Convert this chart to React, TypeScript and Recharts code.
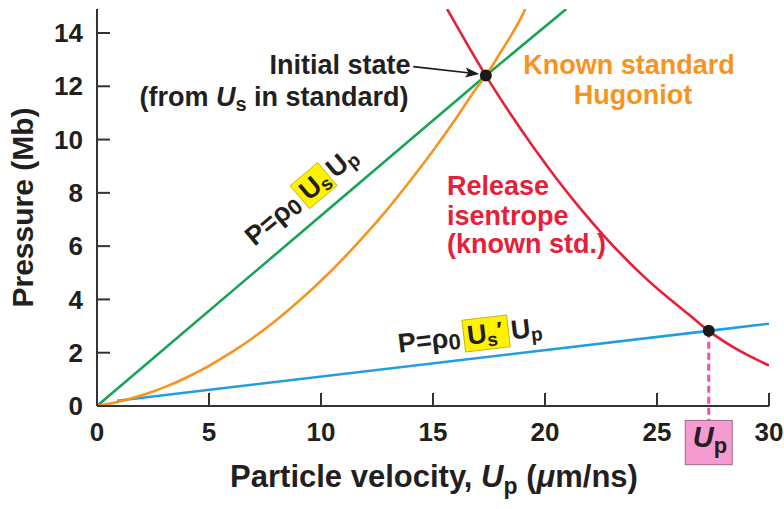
import React from 'react';
import { LineChart, Line, XAxis, YAxis, ReferenceDot, ReferenceLine, Label } from 'recharts';

const FONT = '"Liberation Sans", Arial, Helvetica, sans-serif';
const INK = '#231f20';
const GREEN = '#17a457';
const ORANGE = '#f7941d';
const RED = '#e5213a';
const BLUE = '#1f9fe0';
const PINK = '#ee4fb2';

// tick labels
const xTicks = [0, 5, 10, 15, 20, 25, 30];
const yTicks = [0, 2, 4, 6, 8, 10, 12, 14];

// Rayleigh line through the initial state (green)
const rayleighUp = [0, 17.36, 20.95];
const rayleighP = [0, 12.4, 14.9];

// Known standard Hugoniot (orange)
const hugoniotUp = [0, 1, 2, 3, 4, 5, 6, 7, 8, 9, 10, 11, 12, 13, 14, 15, 16, 17, 17.36, 18, 19, 19.12];
const hugoniotP = [0, 0.17, 0.4, 0.7, 1.07, 1.51, 2.01, 2.58, 3.22, 3.93, 4.7, 5.54, 6.45, 7.42, 8.47, 9.58, 10.76, 12.0, 12.4, 13.25, 14.69, 14.9];

// Release isentrope (red)
const releaseUp = [15.63, 16.5, 17.36, 18.5, 19.5, 20.5, 21.5, 22.5, 23.5, 24.5, 25.5, 26.5, 27.31, 28.5, 30];
const releaseP = [14.9, 13.62, 12.4, 10.91, 9.69, 8.55, 7.49, 6.51, 5.61, 4.79, 4.06, 3.38, 2.82, 2.16, 1.52];

// Sample Rayleigh line (blue)
const sampleUp = [0.9, 27.31, 30];
const sampleP = [0.2, 2.82, 3.09];

// states
const initialState = { up: 17.36, p: 12.4 };
const measuredState = { up: 27.31, p: 2.82 };

const zip = (xs: number[], ys: number[]) => xs.map((x, i) => ({ up: x, p: ys[i] }));

const anchor = (key: string, x: number, y: number, render: () => React.ReactNode) => (
  <ReferenceDot
    key={key}
    x={x}
    y={y}
    r={0}
    ifOverflow="visible"
    shape={(p: any) => <g transform={`translate(${p.cx},${p.cy})`}>{render()}</g>}
  />
);

const txt = { fontFamily: FONT, fontWeight: 700 } as const;
const AF = 27;

export default function App() {
  return (
    <div style={{ position: 'absolute', left: 0, top: 0, width: 784, height: 509, background: '#fff' }}>
      <LineChart
        width={784}
        height={509}
        margin={{ top: 9, right: 15, bottom: 0, left: 0 }}
        style={{ fontFamily: FONT }}
      >
        <XAxis
          dataKey="up"
          type="number"
          domain={[0, 30]}
          ticks={xTicks}
          allowDataOverflow
          height={103}
          tickSize={-13}
          tickMargin={30}
          axisLine={{ stroke: '#333', strokeWidth: 2 }}
          tickLine={{ stroke: '#333', strokeWidth: 2 }}
          tick={{ fontSize: 26, fontWeight: 700, fill: INK, fontFamily: FONT }}
        >
          <Label
            content={(props: any) => {
              const vb = props.viewBox || { x: 97, y: 406, width: 671 };
              return (
                <text x={vb.x + vb.width / 2 + 1} y={vb.y + 80.5} textAnchor="middle" fontSize={31} fill={INK} style={txt}>
                  Particle velocity,{' '}
                  <tspan fontStyle="italic">U</tspan>
                  <tspan fontSize={23} dy={7}>p</tspan>
                  <tspan dy={-7}> (</tspan>
                  <tspan fontStyle="italic">μ</tspan>
                  <tspan>m/ns)</tspan>
                </text>
              );
            }}
          />
        </XAxis>
        <XAxis
          xAxisId="top"
          orientation="top"
          type="number"
          domain={[0, 30]}
          ticks={xTicks}
          allowDataOverflow
          height={0}
          tickSize={-13}
          tickFormatter={() => ''}
          axisLine={{ stroke: '#333', strokeWidth: 2 }}
          tickLine={{ stroke: '#333', strokeWidth: 2 }}
        />
        <YAxis
          type="number"
          domain={[0, 14.9]}
          ticks={yTicks}
          allowDataOverflow
          width={97}
          tickSize={-13}
          tickMargin={27}
          axisLine={{ stroke: '#333', strokeWidth: 2 }}
          tickLine={{ stroke: '#333', strokeWidth: 2 }}
          tick={{ fontSize: 26, fontWeight: 700, fill: INK, fontFamily: FONT }}
        >
          <Label
            content={(props: any) => {
              const vb = props.viewBox || { x: 0, y: 9, height: 397 };
              const cx = vb.x + 33;
              const cy = vb.y + vb.height / 2;
              return (
                <text x={cx} y={cy} transform={`rotate(-90, ${cx}, ${cy})`} textAnchor="middle" fontSize={30} fill={INK} style={txt}>
                  Pressure (Mb)
                </text>
              );
            }}
          />
        </YAxis>
        <YAxis
          yAxisId="right"
          orientation="right"
          type="number"
          domain={[0, 14.9]}
          ticks={yTicks}
          allowDataOverflow
          width={0}
          tickSize={-13}
          tickFormatter={() => ''}
          axisLine={{ stroke: '#333', strokeWidth: 2 }}
          tickLine={{ stroke: '#333', strokeWidth: 2 }}
        />

        <Line data={zip(sampleUp, sampleP)} dataKey="p" type="linear" stroke={BLUE} strokeWidth={2.6} dot={false} activeDot={false} isAnimationActive={false} />
        <Line data={zip(rayleighUp, rayleighP)} dataKey="p" type="linear" stroke={GREEN} strokeWidth={2.6} dot={false} activeDot={false} isAnimationActive={false} />
        <Line data={zip(hugoniotUp, hugoniotP)} dataKey="p" type="monotone" stroke={ORANGE} strokeWidth={2.6} dot={false} activeDot={false} isAnimationActive={false} />
        <Line data={zip(releaseUp, releaseP)} dataKey="p" type="monotone" stroke={RED} strokeWidth={2.6} dot={false} activeDot={false} isAnimationActive={false} />

        <ReferenceLine
          segment={[{ x: measuredState.up, y: measuredState.p }, { x: measuredState.up, y: -0.54 }]}
          ifOverflow="visible"
          stroke={PINK}
          strokeWidth={3}
          strokeDasharray="7 4"
        />

        <ReferenceDot x={initialState.up} y={initialState.p} r={6} fill="#1a1a1a" stroke="none" ifOverflow="visible" />
        <ReferenceDot x={measuredState.up} y={measuredState.p} r={6} fill="#1a1a1a" stroke="none" ifOverflow="visible" />

        {/* Up marker box below axis */}
        {anchor('upbox', measuredState.up, 0, () => (
          <g>
            <rect x={-23.5} y={14.4} width={47} height={44.3} fill="#f59bd1" stroke="#9a6a88" strokeWidth={1} />
            <text x={-16} y={40.5} fontSize={29} fill={INK} style={txt}>
              <tspan fontStyle="italic">U</tspan>
              <tspan fontSize={22} dy={6.5}>p</tspan>
            </text>
          </g>
        ))}

        {/* arrow to initial state */}
        {anchor('arrow', initialState.up, initialState.p, () => (
          <g>
            <line x1={-72.6} y1={-9} x2={-16} y2={-2.6} stroke="#1a1a1a" strokeWidth={1.6} />
            <polygon points="-6.6,-1.5 -21.1,1.9 -17.5,-2.7 -19.9,-8.1" fill="#1a1a1a" />
          </g>
        ))}

        {/* Initial state label */}
        {anchor('init', 14.0, 12.45, () => (
          <g>
            <text x={0} y={0} textAnchor="end" fontSize={AF} fill={INK} style={txt}>Initial state</text>
            <text x={-2} y={32} textAnchor="end" fontSize={AF} fill={INK} style={txt}>
              (from <tspan fontStyle="italic">U</tspan>
              <tspan fontSize={20} dy={5}>s</tspan>
              <tspan dy={-5}> in standard)</tspan>
            </text>
          </g>
        ))}

        {/* Known standard Hugoniot label */}
        {anchor('known', 23.75, 12.45, () => (
          <g>
            <text x={0} y={0} textAnchor="middle" fontSize={AF} fill={ORANGE} style={txt}>Known standard</text>
            <text x={4} y={29.5} textAnchor="middle" fontSize={AF} fill={ORANGE} style={txt}>Hugoniot</text>
          </g>
        ))}

        {/* Release isentrope label */}
        {anchor('release', 15.62, 7.93, () => (
          <g>
            <text x={0} y={0} fontSize={AF} fill={RED} style={txt}>Release</text>
            <text x={0} y={30} fontSize={AF} fill={RED} style={txt}>isentrope</text>
            <text x={0} y={58} fontSize={AF} fill={RED} style={txt}>(known std.)</text>
          </g>
        ))}

        {/* Green line label */}
        {anchor('greenlab', 9.67, 8.27, () => (
          <g transform="rotate(-40)">
            <rect x={-18} y={-15} width={36} height={30} fill="#fff200" stroke="#b9a800" strokeWidth={0.8} />
            <text x={-22} y={9} textAnchor="end" fontSize={AF} fill={INK} style={txt}>
              P=ρ<tspan fontSize={22} dy={3}>0</tspan>
            </text>
            <text x={-14} y={9} fontSize={AF} fill={INK} style={txt}>
              U<tspan fontSize={19} dy={4}>s</tspan>
            </text>
            <text x={21} y={9} fontSize={AF} fill={INK} style={txt}>
              U<tspan fontSize={19} dy={4}>p</tspan>
            </text>
          </g>
        ))}

        {/* Blue line label */}
        {anchor('bluelab', 17.37, 2.72, () => (
          <g transform="rotate(-6.7)">
            <rect x={-22.5} y={-16} width={45} height={32} fill="#fff200" stroke="#b9a800" strokeWidth={0.8} />
            <text x={-26} y={9} textAnchor="end" fontSize={AF} fill={INK} style={txt}>
              P=ρ<tspan fontSize={22} dy={3}>0</tspan>
            </text>
            <text x={-19} y={9} fontSize={AF} fill={INK} style={txt}>
              U<tspan fontSize={19} dy={4}>s</tspan>
              <tspan fontSize={22} dy={-8}>′</tspan>
            </text>
            <text x={25} y={9} fontSize={AF} fill={INK} style={txt}>
              U<tspan fontSize={19} dy={4}>p</tspan>
            </text>
          </g>
        ))}
      </LineChart>
    </div>
  );
}
